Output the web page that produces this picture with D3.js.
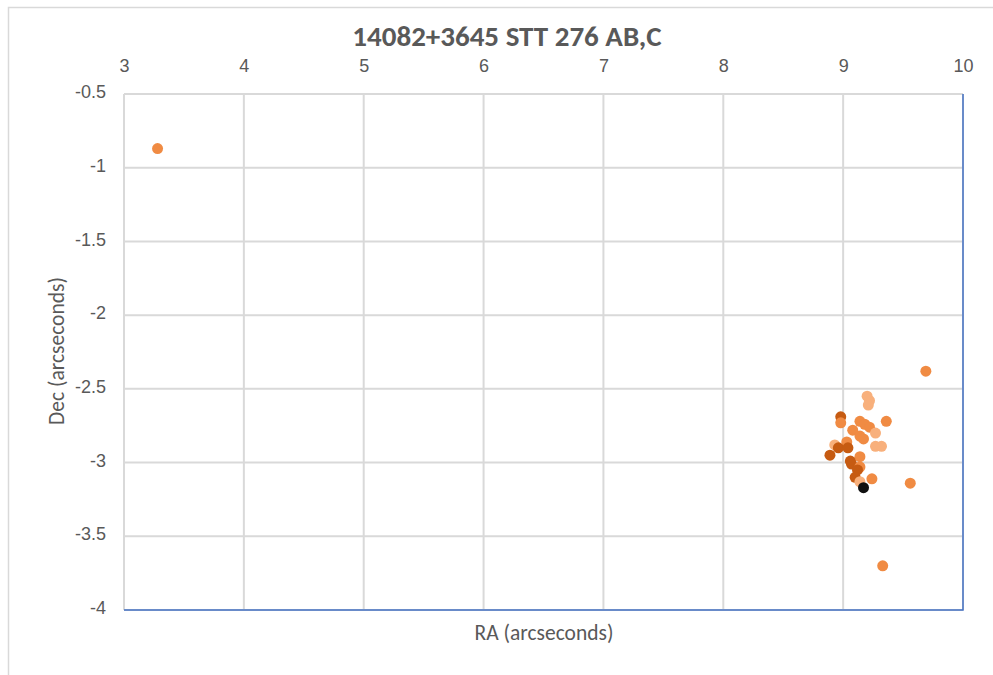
<!DOCTYPE html>
<html><head><meta charset="utf-8">
<script src="https://cdn.jsdelivr.net/npm/d3@7"></script>
<style>body{margin:0;background:#fff;}svg{display:block;font-family:Carlito,Calibri,"Liberation Sans",Arial,sans-serif;}</style>
</head><body>
<svg id="c" width="993" height="675"></svg>
<script>
const title = "14082+3645 STT 276 AB,C";
const xLabel = "RA (arcseconds)";
const yLabel = "Dec (arcseconds)";
const xTicks = [3,4,5,6,7,8,9,10];
const yTicks = [-0.5,-1,-1.5,-2,-2.5,-3,-3.5,-4];
const raValues  = [3.28,9.69,9.20,9.22,9.21,8.98,8.98,9.36,9.14,9.18,9.22,9.08,9.14,9.17,9.27,9.27,9.32,8.93,9.03,8.96,9.04,8.89,9.14,9.06,9.07,9.14,9.12,9.10,9.24,9.14,9.56,9.33,9.17];
const decValues = [-0.87,-2.38,-2.55,-2.58,-2.61,-2.69,-2.73,-2.72,-2.72,-2.74,-2.76,-2.78,-2.82,-2.84,-2.80,-2.89,-2.89,-2.88,-2.86,-2.90,-2.90,-2.95,-2.96,-2.99,-3.01,-3.03,-3.05,-3.10,-3.11,-3.13,-3.14,-3.70,-3.17];
const shades    = ["m","m","l","l","l","d","m","m","m","m","m","m","m","m","l","l","l","l","m","d","d","d","m","d","d","m","d","d","m","l","m","m","k"];
const shadeColors = {l:"#F8B07C", m:"#F08B43", d:"#C65B12", k:"#111111"};

const svg = d3.select("#c");
const W = 993, H = 675;
const L = 124, R = 963, T = 94, B = 610;
const x = d3.scaleLinear().domain([3,10]).range([L,R]);
const y = d3.scaleLinear().domain([-0.5,-4]).range([T,B]);

// chart frame
svg.append("path").attr("d",`M8.5,${H} V7.5 H${W}`).attr("fill","none").attr("stroke","#D9D9D9").attr("stroke-width",1.5);

// gridlines
svg.append("g").selectAll("line").data(xTicks).join("line")
  .attr("x1",d=>x(d)).attr("x2",d=>x(d)).attr("y1",T).attr("y2",B)
  .attr("stroke","#D9D9D9").attr("stroke-width",2);
svg.append("g").selectAll("line").data(yTicks).join("line")
  .attr("x1",L).attr("x2",R).attr("y1",d=>y(d)).attr("y2",d=>y(d))
  .attr("stroke","#D9D9D9").attr("stroke-width",2);

// plot border right/bottom
svg.append("path").attr("d",`M${L},${B} H${R} V${T}`).attr("fill","none").attr("stroke","#4472C4").attr("stroke-width",1.5);

// axes labels via d3 axes
const xAxis = svg.append("g").attr("transform",`translate(0,${T-19})`)
  .call(d3.axisTop(x).tickValues(xTicks).tickSize(0).tickFormat(d3.format("d")));
xAxis.select(".domain").remove();
xAxis.selectAll("text").attr("font-size",18).attr("fill","#595959").attr("font-family","inherit").attr("dy","0");

const yAxis = svg.append("g").attr("transform",`translate(${L-15},0)`)
  .call(d3.axisLeft(y).tickValues(yTicks).tickSize(0).tickFormat(d=>String(d)));
yAxis.select(".domain").remove();
yAxis.selectAll("text").attr("font-size",18).attr("fill","#595959").attr("font-family","inherit").attr("dy","0.2em");

// title
svg.append("text").attr("x",507).attr("y",46).attr("text-anchor","middle")
  .attr("font-size",29).attr("font-weight","bold").attr("fill","#595959").text(title);

// axis titles
svg.append("text").attr("x",544).attr("y",640).attr("text-anchor","middle")
  .attr("font-size",21.5).attr("fill","#595959").text(xLabel);
svg.append("text").attr("transform","translate(64,351) rotate(-90)").attr("text-anchor","middle")
  .attr("font-size",21.5).attr("fill","#595959").text(yLabel);

// points
const pts = raValues.map((v,i)=>({ra:v,dec:decValues[i],s:shades[i]}));
svg.append("g").selectAll("circle").data(pts).join("circle")
  .attr("cx",d=>x(d.ra)).attr("cy",d=>y(d.dec)).attr("r",5.5)
  .attr("fill",d=>shadeColors[d.s]);
</script>
</body></html>
